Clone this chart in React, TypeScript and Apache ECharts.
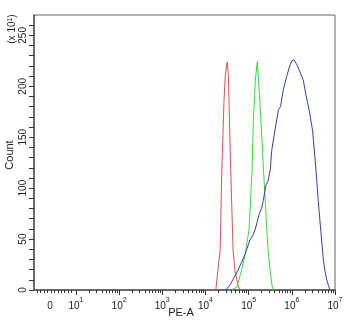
import React, { useEffect, useRef } from "react";
import * as echarts from "echarts";

// x values are log10(PE-A), y values are counts (x10^1 scale as shown)
const redX = [4.24, 4.29, 4.34, 4.38, 4.43, 4.46, 4.505, 4.53, 4.545, 4.585, 4.64, 4.68, 4.75, 4.8];
const redY = [0, 20, 39, 118, 186, 211, 224, 211, 186, 118, 39, 20, 5, 0];

const greenX = [4.61, 4.73, 4.84, 4.915, 5.01, 5.08, 5.11, 5.155, 5.2, 5.23, 5.285, 5.345, 5.42, 5.46, 5.495, 5.54, 5.565];
const greenY = [0, 3, 20, 34, 59, 118, 167, 206, 224, 206, 167, 118, 59, 34, 20, 5, 0];

const blueX = [4.475, 4.57, 4.66, 4.75, 4.8, 4.85, 4.95, 5.03, 5.09, 5.15, 5.24, 5.3, 5.34, 5.4, 5.45, 5.5, 5.535, 5.61, 5.69, 5.74, 5.8, 5.89, 5.96, 6.0, 6.05, 6.12, 6.19, 6.265, 6.33, 6.4, 6.48, 6.56, 6.61, 6.67, 6.73, 6.77, 6.81, 6.85, 6.885];
const blueY = [0, 5, 12, 19, 24, 28, 39, 49, 53, 59, 74, 80, 88, 103, 107, 118, 137, 157, 177, 180, 196, 211, 221, 225, 226, 221, 214, 206, 191, 177, 157, 118, 88, 59, 30, 18, 10, 4, 0];

const yTickValues = [0, 10, 20, 30, 40, 50, 60, 70, 80, 90, 100, 110, 120, 130, 140, 150, 160, 170, 180, 190, 200, 210, 220, 230, 240, 250, 260];
const yLabelValues = [0, 50, 100, 150, 200, 250];
const xMajorTicks = [1, 2, 3, 4, 5, 6, 7];
const xLabelValues = [0.4, 1, 2, 3, 4, 5, 6, 7];
const xLinearMinor = [0.1, 0.18, 0.26, 0.34, 0.42, 0.5, 0.58, 0.66, 0.74, 0.82, 0.9];
const minorMultipliers = [2, 3, 4, 5, 6, 7, 8, 9];

const FONT = "Liberation Sans";
const TXT = "#222";

export default function App() {
  const ref = useRef<HTMLDivElement>(null);
  useEffect(() => {
    if (!ref.current) return;
    const chart = echarts.init(ref.current, undefined, { renderer: "svg" });
    const xMinor: number[] = [...xLinearMinor];
    for (let d = 1; d < 7; d++) minorMultipliers.forEach((k) => xMinor.push(d + Math.log10(k)));
    const pair = (xs: number[], ys: number[]) => xs.map((x, i) => [x, ys[i]]);
    const rich = {
      b: { fontSize: 10, fontFamily: FONT, color: TXT, verticalAlign: "bottom", lineHeight: 14 },
      s: { fontSize: 7, fontFamily: FONT, color: TXT, verticalAlign: "top", lineHeight: 14, padding: [0, 0, 4, 0] },
    };
    chart.setOption({
      animation: false,
      grid: { left: 34, top: 15, right: 15, bottom: 31, show: true, borderColor: "#666", borderWidth: 1, backgroundColor: "#fff" },
      xAxis: [
        {
          type: "value", min: 0.03, max: 7, position: "bottom",
          axisLine: { show: true, onZero: false, lineStyle: { color: "#555", width: 1.5 } },
          axisTick: { show: true, customValues: xMajorTicks, length: 5, lineStyle: { color: "#333" } },
          axisLabel: {
            customValues: xLabelValues, margin: 6, color: TXT, fontFamily: FONT, fontSize: 10,
            formatter: (v: number) => (v < 0.5 ? "{b|0}" : `{b|10}{s|${Math.round(v)}}`),
            rich,
          },
          splitLine: { show: false },
        },
        {
          type: "value", min: 0.03, max: 7, position: "bottom",
          axisLine: { show: false },
          axisTick: { show: true, customValues: xMinor, length: 3, lineStyle: { color: "#333" } },
          axisLabel: { show: false },
          splitLine: { show: false },
        },
      ],
      yAxis: {
        type: "value", min: 0, max: 270,
        axisLine: { show: true, lineStyle: { color: "#555", width: 1.5 } },
        axisTick: { show: true, customValues: yTickValues, length: 5, lineStyle: { color: "#333" } },
        axisLabel: { customValues: yLabelValues, rotate: 90, margin: 7, color: TXT, fontFamily: FONT, fontSize: 10 },
        splitLine: { show: false },
      },
      graphic: [
        { type: "text", x: 9, y: 155, rotation: Math.PI / 2, style: { text: "Count", fontFamily: FONT, fontSize: 11, fill: TXT, align: "center", verticalAlign: "middle" } },
        { type: "text", x: 11, y: 29, rotation: Math.PI / 2, style: { text: "(x 10{s|1})", fontFamily: FONT, fontSize: 10, fill: TXT, align: "center", verticalAlign: "middle", rich: { s: { fontSize: 7, fontFamily: FONT, fill: TXT, verticalAlign: "top" } } } },
        { type: "text", x: 181, y: 312, style: { text: "PE-A", fontFamily: FONT, fontSize: 11, fill: TXT, align: "center", verticalAlign: "middle" } },
      ],
      series: [
        { type: "line", data: pair(redX, redY), showSymbol: false, lineStyle: { color: "#e05050", width: 1 }, itemStyle: { color: "#e05050" } },
        { type: "line", data: pair(greenX, greenY), showSymbol: false, lineStyle: { color: "#3ad83a", width: 1 }, itemStyle: { color: "#3ad83a" } },
        { type: "line", data: pair(blueX, blueY), showSymbol: false, lineStyle: { color: "#3c3cb0", width: 1 }, itemStyle: { color: "#3c3cb0" } },
      ],
    });
    return () => chart.dispose();
  }, []);
  return <div ref={ref} style={{ position: "fixed", left: 0, top: 0, width: 350, height: 321 }} />;
}
